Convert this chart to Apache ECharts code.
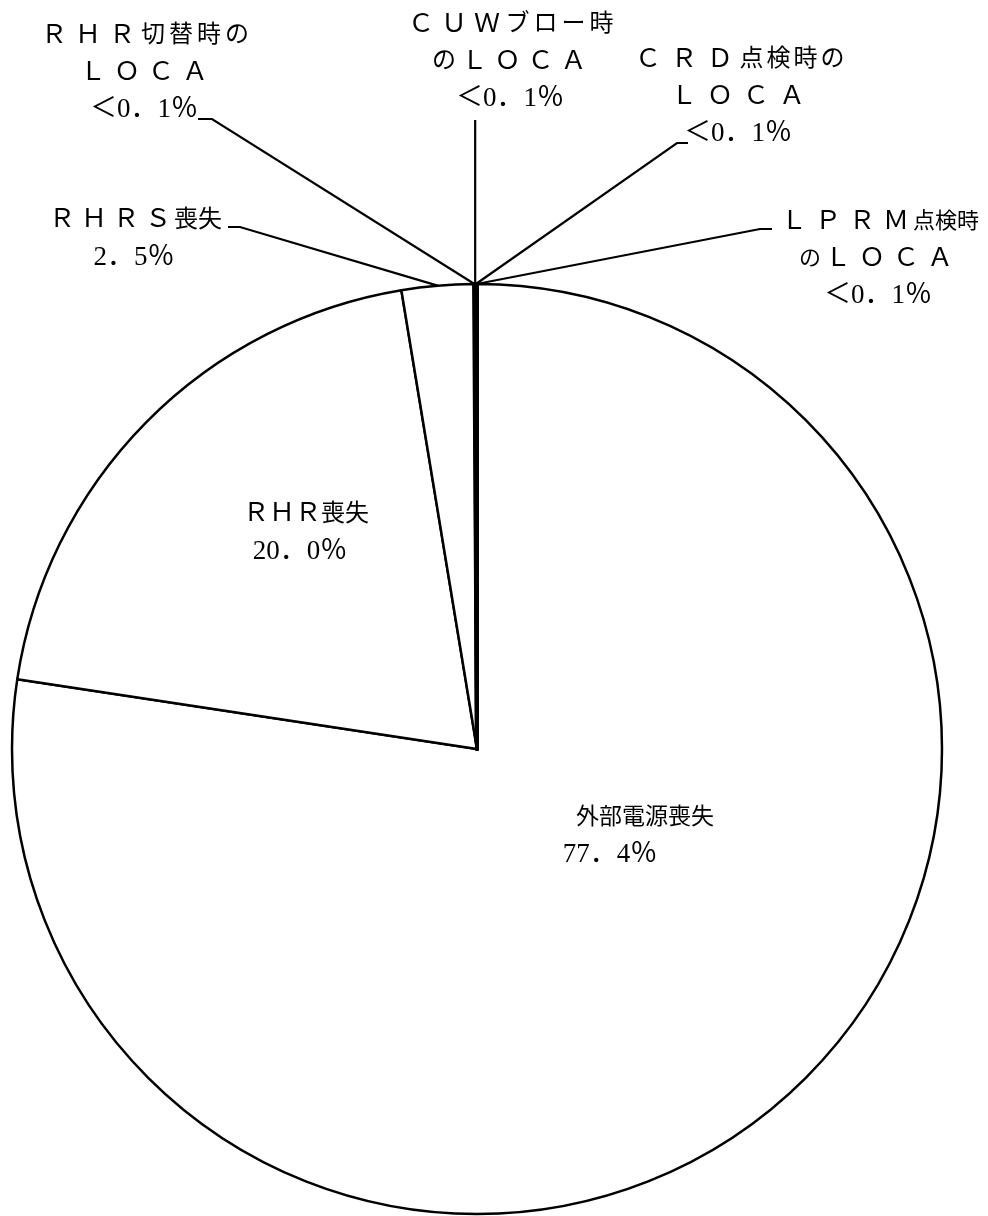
<!DOCTYPE html>
<html><head><meta charset="utf-8">
<script src="https://cdn.jsdelivr.net/npm/echarts@6/dist/echarts.min.js"></script>
<style>html,body{margin:0;padding:0;background:#fff}#c{width:988px;height:1216px}</style>
</head><body><div id="c"></div>
<script>
// ---- data ----
const categories = ['外部電源喪失', 'ＲＨＲ喪失', 'ＲＨＲＳ喪失', 'ＲＨＲ切替時の\nＬＯＣＡ', 'ＣＵＷブロー時\nのＬＯＣＡ', 'ＣＲＤ点検時の\nＬＯＣＡ', 'ＬＰＲＭ点検時\nのＬＯＣＡ'];
const values = [77.4, 20.0, 2.5, 0.025, 0.025, 0.025, 0.025];
const percentLabels = ['77．4％', '20．0％', '2．5％', '＜0．1％', '＜0．1％', '＜0．1％', '＜0．1％'];

// ---- layout / style ----
const FONT = "'Liberation Serif', 'Noto Sans CJK JP', serif";
const FS_L = 26, FS_N = 27;
const LH = 37;
// extra horizontal space per character class (L: full-width latin, K: kana/kanji, N: digits & signs)
const spacing = [
  {L: 0, K: 0, N: 0, fk: 23, shift2: 35},
  {L: 0, K: 0, N: 0, fk: 24, shift2: 6},
  {L: 6, K: 0, N: 0, fk: 24},
  {L: 8, K: 4, N: 0, fk: 24},
  {L: 7, K: 4, N: 0, fk: 24},
  {L: 10, K: 3, N: 0, fk: 24},
  {L: 8, K: 0, N: 0, fk: 22}
];
const labelPos = [
  {x: 645, y: 836},
  {x: 306, y: 533},
  {x: 134, y: 239, line: [[240, 227], [228, 227]]},
  {x: 144, y: 73, line: [[212, 119], [198, 119]]},
  {x: 510, y: 62, vertical: 120},
  {x: 738, y: 97, line: [[677, 143], [688, 143]]},
  {x: 878, y: 259, line: [[760, 229], [772, 229]]}
];

function cls(ch) {
  const c = ch.codePointAt(0);
  if (c >= 0xFF21 && c <= 0xFF3A) return 'L';
  if (c >= 0x3040 && c < 0xFF00) return 'K';
  return 'N';
}
function richText(i) {
  const lines = (categories[i] + '\n' + percentLabels[i]).split('\n');
  const last = lines.length - 1;
  return lines.map((l, li) => {
    const chars = Array.from(l);
    return chars.map((ch, ci) => {
      const c = cls(ch);
      const name = (li === last && ci === chars.length - 1 && spacing[i].shift2) ? 'S' : c;
      return '{' + name + '|' + ch + '}';
    }).join('');
  }).join('\n');
}
function richStyles(sp) {
  const base = {fontFamily: FONT, color: '#000', lineHeight: LH, align: 'center'};
  const s = {
    L: Object.assign({}, base, {fontSize: FS_L, padding: [0, sp.L / 2]}),
    K: Object.assign({}, base, {fontSize: sp.fk, padding: [0, sp.K / 2]}),
    N: Object.assign({}, base, {fontSize: FS_N, padding: [0, sp.N / 2]})
  };
  if (sp.shift2) {
    s.S = Object.assign({}, base, {fontSize: FS_N, padding: [0, sp.shift2 * 2, 0, 0]});
  }
  return s;
}

const seriesData = categories.map((name, i) => {
  const inside = i < 2;
  return {
    name: name,
    value: values[i],
    itemStyle: {color: '#fff', borderColor: '#000', borderWidth: i >= 3 ? 4 : 2.5},
    label: {
      show: true,
      position: inside ? 'inside' : 'outside',
      formatter: () => richText(i),
      rich: richStyles(spacing[i])
    },
    labelLine: {show: !inside, lineStyle: {color: '#000', width: 2.2}, length: 20, length2: 10, smooth: false}
  };
});

const chart = echarts.init(document.getElementById('c'), null, {renderer: 'canvas'});
chart.setOption({
  backgroundColor: '#fff',
  animation: false,
  series: [{
    type: 'pie',
    center: [477, 749],
    radius: [0, 465],
    startAngle: 90,
    clockwise: true,
    avoidLabelOverlap: false,
    minAngle: 0,
    padAngle: 0,
    emphasis: {disabled: true},
    data: seriesData,
    labelLayout: function (params) {
      const cfg = labelPos[params.dataIndex];
      const out = {x: cfg.x, y: cfg.y, align: 'center', verticalAlign: 'middle'};
      const pts = params.labelLinePoints;
      if (pts && pts.length) {
        const p0 = pts[0];
        if (cfg.vertical != null) {
          out.labelLinePoints = [p0, [p0[0], cfg.vertical], [p0[0], cfg.vertical]];
        } else if (cfg.line) {
          out.labelLinePoints = [p0, cfg.line[0], cfg.line[1]];
        }
      }
      return out;
    }
  }]
});
</script>
</body></html>
